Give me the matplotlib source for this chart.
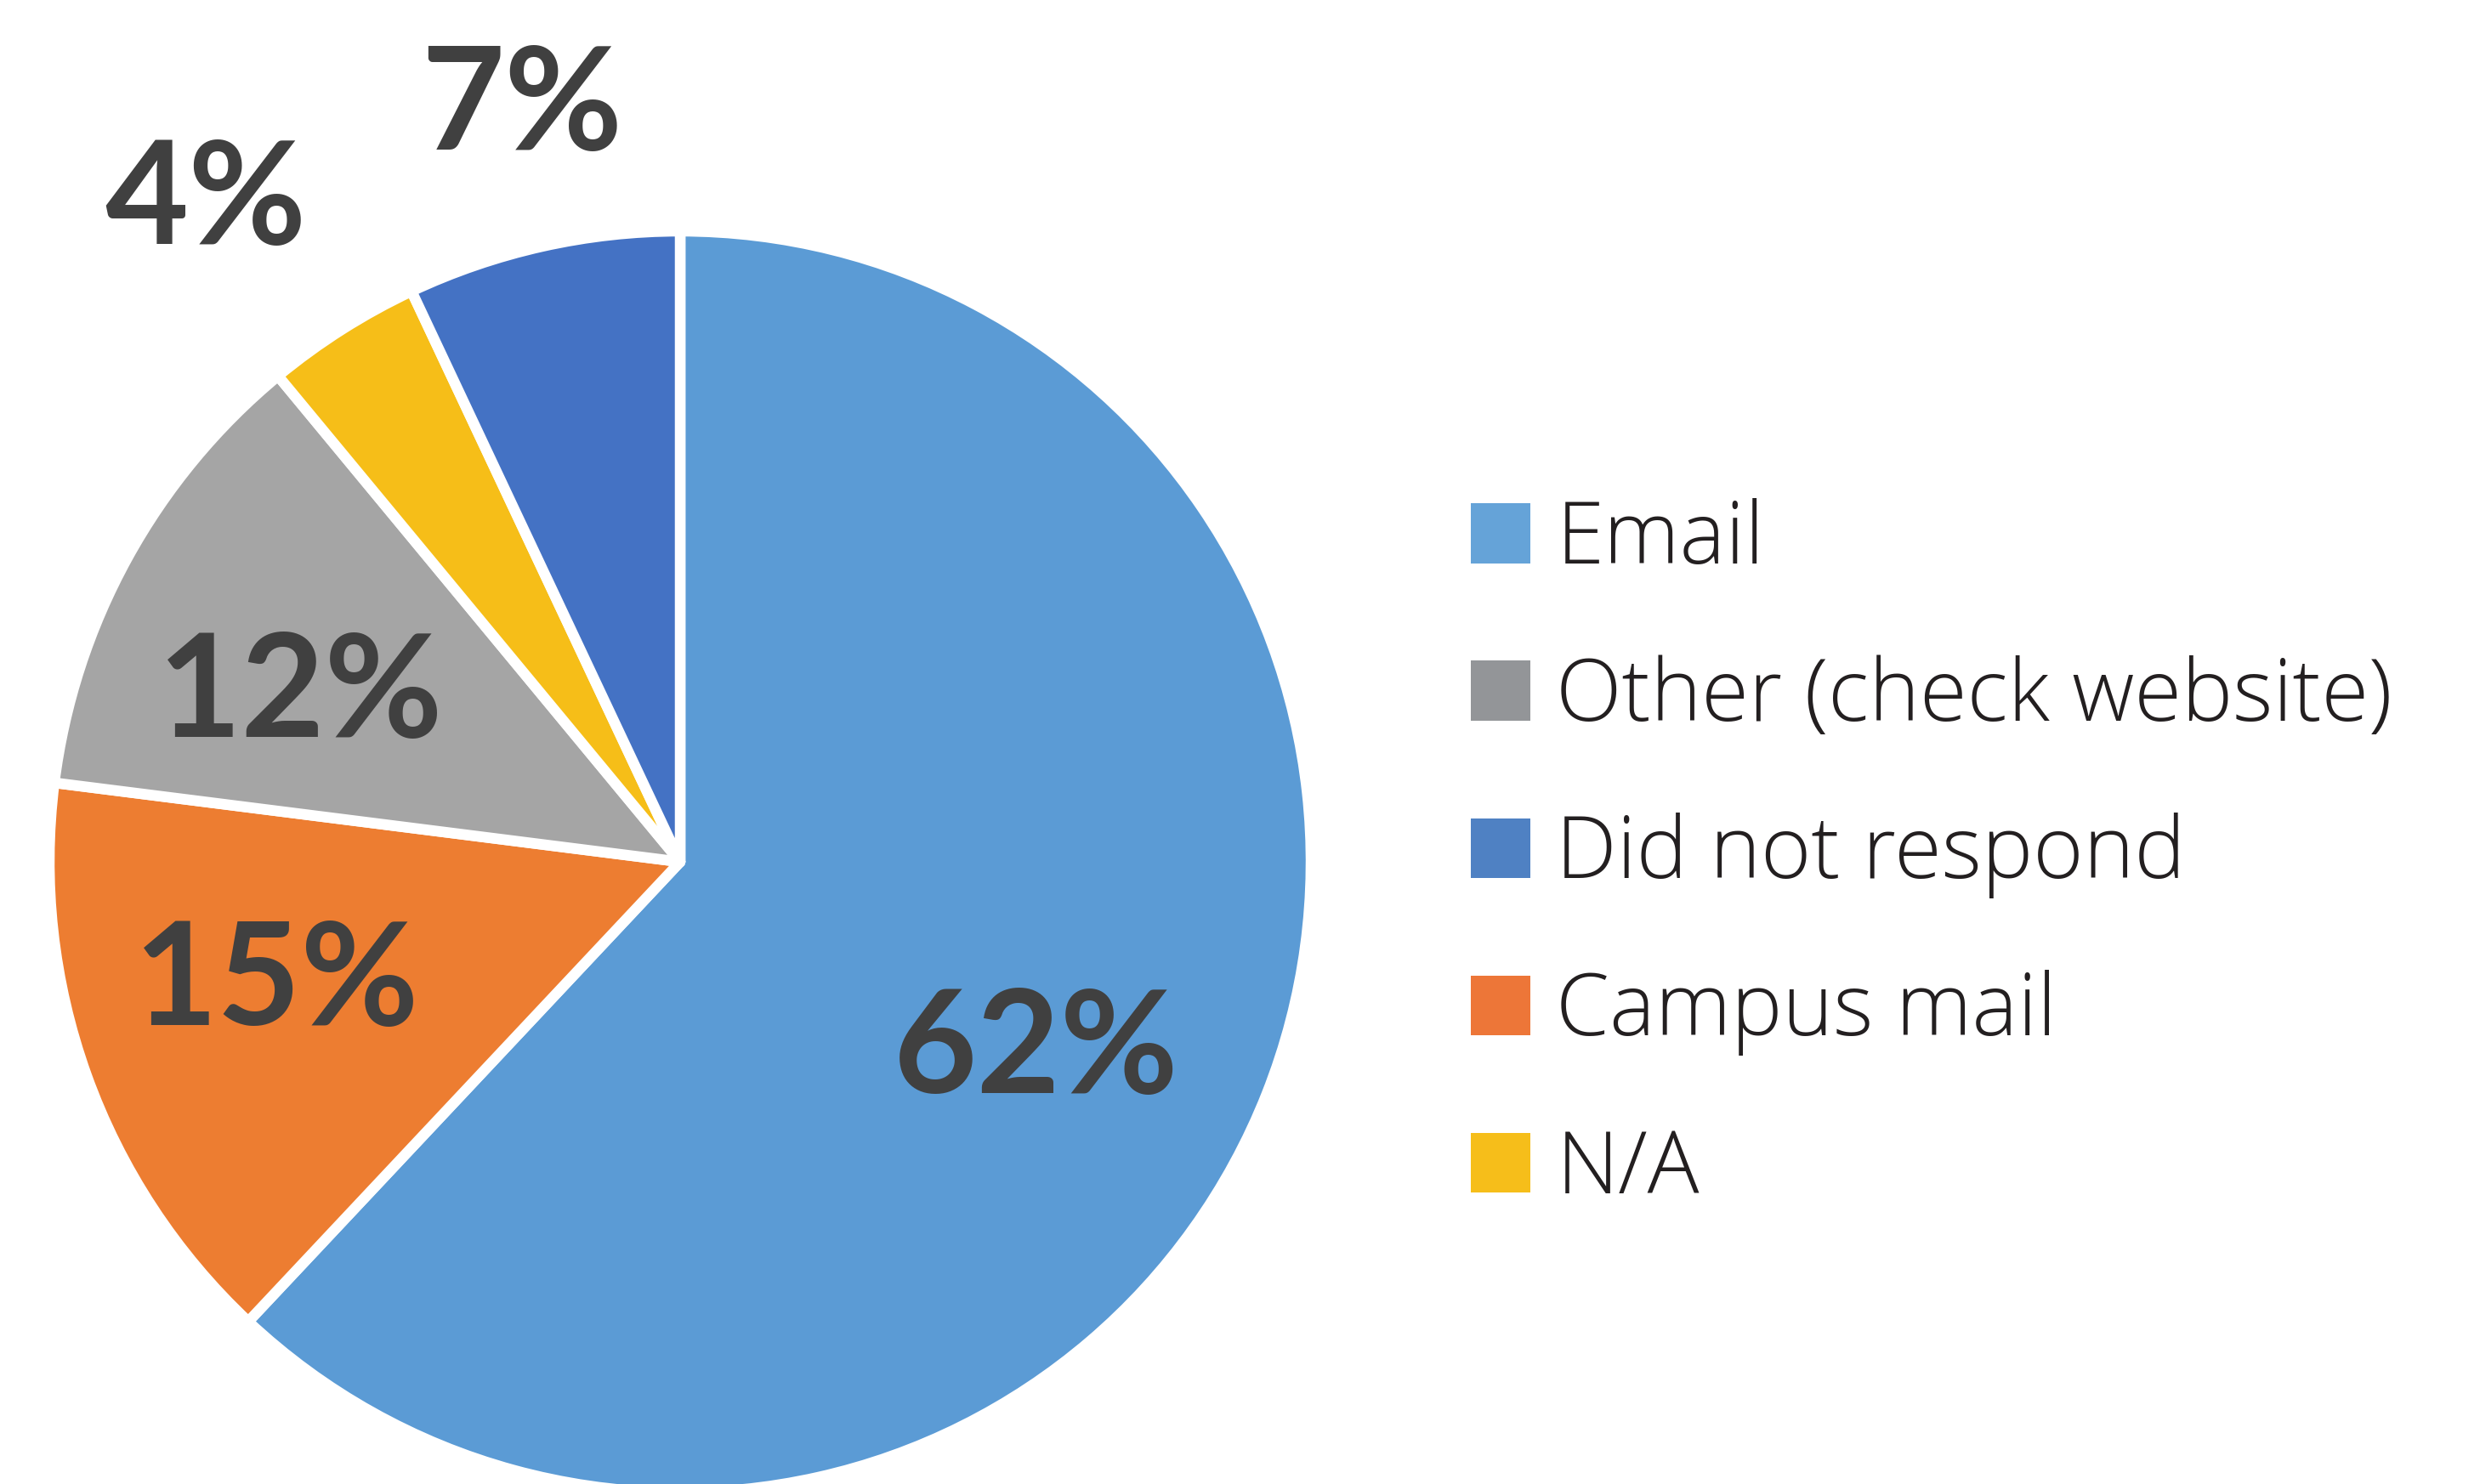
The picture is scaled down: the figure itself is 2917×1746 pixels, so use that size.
import matplotlib.pyplot as plt
from matplotlib.patches import Patch

# Survey answers, clockwise from 12 o'clock
categories = ['Email', 'Campus mail', 'Other (check website)', 'N/A', 'Did not respond']
shares = [62, 15, 12, 4, 7]
colors = ['#5B9BD5', '#ED7D31', '#A5A5A5', '#F6BE18', '#4472C4']

# legend order and swatch colours as in the original
legend_order = ['Email', 'Other (check website)', 'Did not respond', 'Campus mail', 'N/A']
legend_colors = ['#65A3D8', '#939598', '#4F81C3', '#ED7638', '#F6BE1A']

# where each percentage sits (pie radius = 1)
label_pos = [(0.564, -0.301), (-0.639, -0.193), (-0.602, 0.263), (-0.752, 1.045), (-0.251, 1.195)]

W, H = 2917, 1746
fig = plt.figure(figsize=(W / 100, H / 100), dpi=100)
ax = fig.add_axes([0, 0, 1, 1])

cx, cy, r = 800, 1014, 742  # pixel centre and radius of the pie

wedges, _ = ax.pie(shares, colors=colors, startangle=90, counterclock=False,
                   radius=1, center=(0, 0), frame=True,
                   wedgeprops=dict(edgecolor='white', linewidth=9, joinstyle='round'))
ax.set_xlim(-cx / r, (W - cx) / r)
ax.set_ylim(-(H - cy) / r, cy / r)
ax.set_aspect('auto')
ax.axis('off')

for v, (x, y) in zip(shares, label_pos):
    ax.text(x, y, f'{v}%', ha='center', va='center', fontsize=122,
            fontweight='bold', family=['Lato', 'DejaVu Sans'], color='#404040')

handles = [Patch(facecolor=c, edgecolor='none') for c in legend_colors]
leg = ax.legend(handles, legend_order, loc='upper left',
                bbox_to_anchor=(1730 / W, 1 - 586 / H), bbox_transform=fig.transFigure,
                frameon=False, borderpad=0, borderaxespad=0,
                handlelength=0.69, handleheight=0.69, handletextpad=0.3,
                labelspacing=0.83,
                prop=dict(family=['Open Sans', 'DejaVu Sans'], weight='light', size=73))
for t in leg.get_texts():
    t.set_color('#231F20')

fig.savefig('out.png', dpi=100, facecolor='white')
